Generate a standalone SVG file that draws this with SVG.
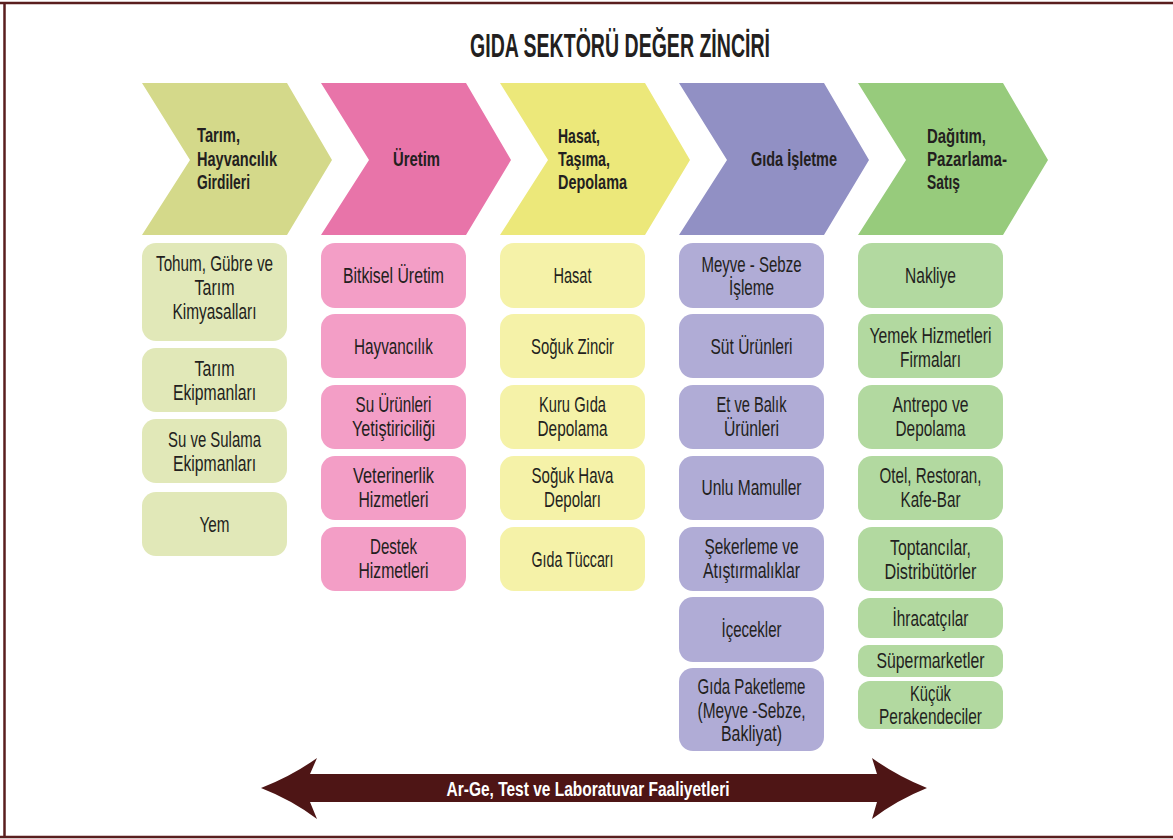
<svg xmlns="http://www.w3.org/2000/svg" width="1173" height="839" viewBox="0 0 1173 839">
<style>
.t{font-family:"Liberation Sans Narrow","Liberation Sans",Arial,sans-serif;font-size:21.5px;fill:#231f20;text-anchor:middle}
.h{font-family:"Liberation Sans Narrow","Liberation Sans",Arial,sans-serif;font-size:21px;font-weight:bold;fill:#231f20}
.ti{font-family:"Liberation Sans Narrow","Liberation Sans",Arial,sans-serif;font-size:33px;font-weight:bold;fill:#231f20;text-anchor:middle}
.c1{fill:#d4d98a}.c2{fill:#e874a9}.c3{fill:#ece87a}.c4{fill:#9190c4}.c5{fill:#97cb7c}
.b1{fill:#e1e8b8}.b2{fill:#f39ec6}.b3{fill:#f5f2a8}.b4{fill:#b0acd6}.b5{fill:#b2d9a0}
.frame{stroke:#5a1e1e;stroke-width:2.5;fill:none}
</style>
<rect width="1173" height="839" fill="#ffffff"/>
<g id="frame">
<line class="frame" x1="0" y1="3" x2="1173" y2="3"/>
<line class="frame" x1="4.5" y1="3" x2="4.5" y2="837"/>
<line class="frame" x1="0" y1="837" x2="1173" y2="837"/>
</g>
<g id="title"><text class="ti" x="620" y="57" textLength="300" lengthAdjust="spacingAndGlyphs">GIDA SEKTÖRÜ DEĞER ZİNCİRİ</text></g>

<g id="stage1">
<polygon class="c1" points="142,83 287,83 332,160 287,235 142,235 190,160"/>
<text class="h" x="197" y="142" textLength="43" lengthAdjust="spacingAndGlyphs">Tarım,</text>
<text class="h" x="197" y="166" textLength="80" lengthAdjust="spacingAndGlyphs">Hayvancılık</text>
<text class="h" x="197" y="189" textLength="53" lengthAdjust="spacingAndGlyphs">Girdileri</text>
</g>
<g id="stage2">
<polygon class="c2" points="321,83 466,83 511,160 466,235 321,235 369,160"/>
<text class="h" x="393" y="166" textLength="47" lengthAdjust="spacingAndGlyphs">Üretim</text>
</g>
<g id="stage3">
<polygon class="c3" points="500,83 645,83 690,160 645,235 500,235 548,160"/>
<text class="h" x="558" y="143" textLength="42" lengthAdjust="spacingAndGlyphs">Hasat,</text>
<text class="h" x="558" y="166" textLength="52" lengthAdjust="spacingAndGlyphs">Taşıma,</text>
<text class="h" x="558" y="189" textLength="69" lengthAdjust="spacingAndGlyphs">Depolama</text>
</g>
<g id="stage4">
<polygon class="c4" points="679,83 824,83 869,160 824,235 679,235 727,160"/>
<text class="h" x="751" y="166" textLength="86" lengthAdjust="spacingAndGlyphs">Gıda İşletme</text>
</g>
<g id="stage5">
<polygon class="c5" points="858,83 1003,83 1048,160 1003,235 858,235 906,160"/>
<text class="h" x="927" y="143" textLength="59" lengthAdjust="spacingAndGlyphs">Dağıtım,</text>
<text class="h" x="927" y="166" textLength="80" lengthAdjust="spacingAndGlyphs">Pazarlama-</text>
<text class="h" x="927" y="189" textLength="33" lengthAdjust="spacingAndGlyphs">Satış</text>
</g>

<!-- column 1 -->
<g id="c1n1"><rect class="b1" x="142" y="243" width="145" height="98" rx="14"/>
<text class="t" x="214.5" y="271" textLength="117" lengthAdjust="spacingAndGlyphs">Tohum, Gübre ve</text>
<text class="t" x="214.5" y="295" textLength="40" lengthAdjust="spacingAndGlyphs">Tarım</text>
<text class="t" x="214.5" y="319" textLength="84" lengthAdjust="spacingAndGlyphs">Kimyasalları</text></g>
<g id="c1n2"><rect class="b1" x="142" y="348" width="145" height="64" rx="14"/>
<text class="t" x="214.5" y="376" textLength="40" lengthAdjust="spacingAndGlyphs">Tarım</text>
<text class="t" x="214.5" y="400" textLength="83" lengthAdjust="spacingAndGlyphs">Ekipmanları</text></g>
<g id="c1n3"><rect class="b1" x="142" y="419" width="145" height="64" rx="14"/>
<text class="t" x="214.5" y="447" textLength="93" lengthAdjust="spacingAndGlyphs">Su ve Sulama</text>
<text class="t" x="214.5" y="471" textLength="83" lengthAdjust="spacingAndGlyphs">Ekipmanları</text></g>
<g id="c1n4"><rect class="b1" x="142" y="492" width="145" height="64" rx="14"/>
<text class="t" x="214.5" y="532" textLength="30" lengthAdjust="spacingAndGlyphs">Yem</text></g>

<!-- column 2 -->
<g id="c2n1"><rect class="b2" x="321" y="243" width="145" height="65" rx="14"/>
<text class="t" x="393.5" y="283" textLength="101" lengthAdjust="spacingAndGlyphs">Bitkisel Üretim</text></g>
<g id="c2n2"><rect class="b2" x="321" y="314" width="145" height="64" rx="14"/>
<text class="t" x="393.5" y="354" textLength="79" lengthAdjust="spacingAndGlyphs">Hayvancılık</text></g>
<g id="c2n3"><rect class="b2" x="321" y="385" width="145" height="64" rx="14"/>
<text class="t" x="393.5" y="412" textLength="76" lengthAdjust="spacingAndGlyphs">Su Ürünleri</text>
<text class="t" x="393.5" y="436" textLength="83" lengthAdjust="spacingAndGlyphs">Yetiştiriciliği</text></g>
<g id="c2n4"><rect class="b2" x="321" y="456" width="145" height="64" rx="14"/>
<text class="t" x="393.5" y="483" textLength="81" lengthAdjust="spacingAndGlyphs">Veterinerlik</text>
<text class="t" x="393.5" y="507" textLength="70" lengthAdjust="spacingAndGlyphs">Hizmetleri</text></g>
<g id="c2n5"><rect class="b2" x="321" y="527" width="145" height="64" rx="14"/>
<text class="t" x="393.5" y="554" textLength="47" lengthAdjust="spacingAndGlyphs">Destek</text>
<text class="t" x="393.5" y="578" textLength="70" lengthAdjust="spacingAndGlyphs">Hizmetleri</text></g>

<!-- column 3 -->
<g id="c3n1"><rect class="b3" x="500" y="243" width="145" height="65" rx="14"/>
<text class="t" x="572.5" y="283" textLength="38" lengthAdjust="spacingAndGlyphs">Hasat</text></g>
<g id="c3n2"><rect class="b3" x="500" y="314" width="145" height="64" rx="14"/>
<text class="t" x="572.5" y="354" textLength="83" lengthAdjust="spacingAndGlyphs">Soğuk Zincir</text></g>
<g id="c3n3"><rect class="b3" x="500" y="385" width="145" height="64" rx="14"/>
<text class="t" x="572.5" y="412" textLength="67" lengthAdjust="spacingAndGlyphs">Kuru Gıda</text>
<text class="t" x="572.5" y="436" textLength="70" lengthAdjust="spacingAndGlyphs">Depolama</text></g>
<g id="c3n4"><rect class="b3" x="500" y="456" width="145" height="64" rx="14"/>
<text class="t" x="572.5" y="483" textLength="82" lengthAdjust="spacingAndGlyphs">Soğuk Hava</text>
<text class="t" x="572.5" y="507" textLength="57" lengthAdjust="spacingAndGlyphs">Depoları</text></g>
<g id="c3n5"><rect class="b3" x="500" y="527" width="145" height="64" rx="14"/>
<text class="t" x="572.5" y="567" textLength="82" lengthAdjust="spacingAndGlyphs">Gıda Tüccarı</text></g>

<!-- column 4 -->
<g id="c4n1"><rect class="b4" x="679" y="243" width="145" height="65" rx="14"/>
<text class="t" x="751.5" y="272" textLength="100" lengthAdjust="spacingAndGlyphs">Meyve - Sebze</text>
<text class="t" x="751.5" y="295" textLength="45" lengthAdjust="spacingAndGlyphs">İşleme</text></g>
<g id="c4n2"><rect class="b4" x="679" y="314" width="145" height="64" rx="14"/>
<text class="t" x="751.5" y="354" textLength="82" lengthAdjust="spacingAndGlyphs">Süt Ürünleri</text></g>
<g id="c4n3"><rect class="b4" x="679" y="385" width="145" height="64" rx="14"/>
<text class="t" x="751.5" y="412" textLength="70" lengthAdjust="spacingAndGlyphs">Et ve Balık</text>
<text class="t" x="751.5" y="436" textLength="55" lengthAdjust="spacingAndGlyphs">Ürünleri</text></g>
<g id="c4n4"><rect class="b4" x="679" y="456" width="145" height="64" rx="14"/>
<text class="t" x="751.5" y="495" textLength="100" lengthAdjust="spacingAndGlyphs">Unlu Mamuller</text></g>
<g id="c4n5"><rect class="b4" x="679" y="527" width="145" height="64" rx="14"/>
<text class="t" x="751.5" y="554" textLength="94" lengthAdjust="spacingAndGlyphs">Şekerleme ve</text>
<text class="t" x="751.5" y="578" textLength="97" lengthAdjust="spacingAndGlyphs">Atıştırmalıklar</text></g>
<g id="c4n6"><rect class="b4" x="679" y="597" width="145" height="65" rx="14"/>
<text class="t" x="751.5" y="637" textLength="60" lengthAdjust="spacingAndGlyphs">İçecekler</text></g>
<g id="c4n7"><rect class="b4" x="679" y="668" width="145" height="83" rx="14"/>
<text class="t" x="751.5" y="694" textLength="108" lengthAdjust="spacingAndGlyphs">Gıda Paketleme</text>
<text class="t" x="751.5" y="718" textLength="108" lengthAdjust="spacingAndGlyphs">(Meyve -Sebze,</text>
<text class="t" x="751.5" y="741" textLength="61" lengthAdjust="spacingAndGlyphs">Bakliyat)</text></g>

<!-- column 5 -->
<g id="c5n1"><rect class="b5" x="858" y="243" width="145" height="65" rx="14"/>
<text class="t" x="930.5" y="283" textLength="51" lengthAdjust="spacingAndGlyphs">Nakliye</text></g>
<g id="c5n2"><rect class="b5" x="858" y="314" width="145" height="64" rx="14"/>
<text class="t" x="930.5" y="343" textLength="122" lengthAdjust="spacingAndGlyphs">Yemek Hizmetleri</text>
<text class="t" x="930.5" y="367" textLength="61" lengthAdjust="spacingAndGlyphs">Firmaları</text></g>
<g id="c5n3"><rect class="b5" x="858" y="385" width="145" height="64" rx="14"/>
<text class="t" x="930.5" y="412" textLength="76" lengthAdjust="spacingAndGlyphs">Antrepo ve</text>
<text class="t" x="930.5" y="436" textLength="70" lengthAdjust="spacingAndGlyphs">Depolama</text></g>
<g id="c5n4"><rect class="b5" x="858" y="456" width="145" height="64" rx="14"/>
<text class="t" x="930.5" y="483" textLength="102" lengthAdjust="spacingAndGlyphs">Otel, Restoran,</text>
<text class="t" x="930.5" y="507" textLength="60" lengthAdjust="spacingAndGlyphs">Kafe-Bar</text></g>
<g id="c5n5"><rect class="b5" x="858" y="527" width="145" height="64" rx="14"/>
<text class="t" x="930.5" y="555" textLength="81" lengthAdjust="spacingAndGlyphs">Toptancılar,</text>
<text class="t" x="930.5" y="579" textLength="92" lengthAdjust="spacingAndGlyphs">Distribütörler</text></g>
<g id="c5n6"><rect class="b5" x="858" y="598" width="145" height="40" rx="12"/>
<text class="t" x="930.5" y="626" textLength="76" lengthAdjust="spacingAndGlyphs">İhracatçılar</text></g>
<g id="c5n7"><rect class="b5" x="858" y="645" width="145" height="32" rx="10"/>
<text class="t" x="930.5" y="668" textLength="108" lengthAdjust="spacingAndGlyphs">Süpermarketler</text></g>
<g id="c5n8"><rect class="b5" x="858" y="681" width="145" height="48" rx="12"/>
<text class="t" x="930.5" y="701" textLength="41" lengthAdjust="spacingAndGlyphs">Küçük</text>
<text class="t" x="930.5" y="724" textLength="103" lengthAdjust="spacingAndGlyphs">Perakendeciler</text></g>

<g id="connectors">
<path fill="#4e1515" d="M261,788 Q292,776 317,758 L310,774 L877,774 L872,758 Q897,776 927,788 Q897,800 872,819 L877,802 L310,802 L317,819 Q292,800 261,788 Z"/>
<text x="588" y="796" font-family="'Liberation Sans Narrow','Liberation Sans',Arial,sans-serif" font-size="20" font-weight="bold" fill="#ffffff" text-anchor="middle" textLength="283" lengthAdjust="spacingAndGlyphs">Ar-Ge, Test ve Laboratuvar Faaliyetleri</text>
</g>
</svg>
